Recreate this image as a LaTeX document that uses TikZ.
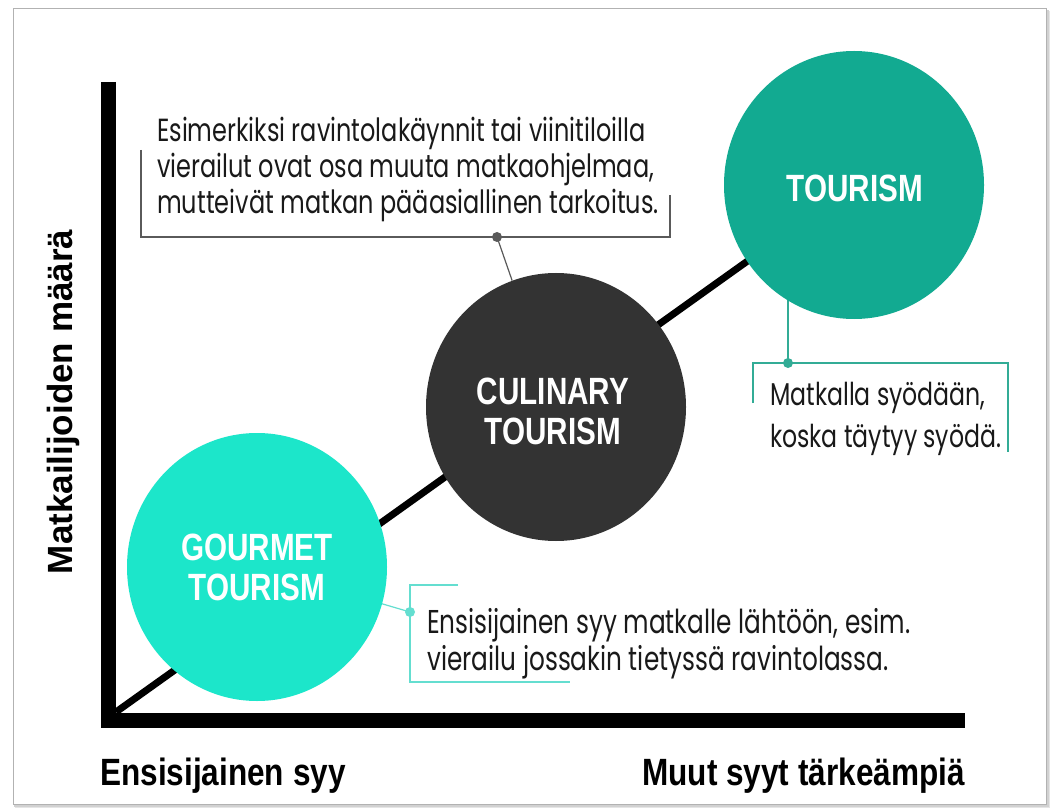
\documentclass[tikz,border=0pt]{standalone}
\usepackage{fontspec}
\setmainfont{Liberation Sans}
\newfontfamily\bodyfont[FakeStretch=0.75]{Poppins}
\newfontfamily\bubblefont[FakeStretch=0.78]{Liberation Sans}
\newfontfamily\axisfont[FakeStretch=0.83]{Liberation Sans}
\newfontfamily\vaxisfont[FakeStretch=1.0]{Liberation Sans}
\usetikzlibrary{shapes.geometric}

\pgfdeclarelayer{frame}
\pgfdeclarelayer{links}
\pgfsetlayers{frame,links,main}

\definecolor{gourmetcol}{RGB}{28,230,202}
\definecolor{tourismcol}{RGB}{18,170,145}
\definecolor{culinarycol}{RGB}{51,51,51}
\definecolor{gourmetline}{RGB}{100,222,208}
\definecolor{tourismline}{RGB}{50,172,150}
\definecolor{noteline}{RGB}{90,90,90}
\definecolor{ink}{RGB}{25,25,25}

\begin{document}
\begin{tikzpicture}[x=1pt,y=-1pt,
  bubble/.style={ellipse,minimum width=260pt,minimum height=268pt,inner sep=0pt,draw=none},
  bubbletext/.style={text=white,align=center,inner sep=0pt,
    font=\bubblefont\bfseries\fontsize{38}{40}\selectfont},
  notetext/.style={text=ink,anchor=base west,inner sep=0pt},
  axislabel/.style={text=black,inner sep=0pt,font=\axisfont\bfseries\fontsize{38}{40}\selectfont},
  dotmark/.style={circle,minimum size=10pt,inner sep=0pt},
  axisline/.style={line width=15pt,line cap=butt,line join=miter},
]
\useasboundingbox (0,0) rectangle (1052,810);

% page frame with a soft shadow
\begin{pgfonlayer}{frame}
  \fill[black!10] (15,11) rectangle (1050,808);
  \fill[black!18] (14,10) rectangle (1048.5,806.5);
  \fill[white] (13,9) rectangle (1046.5,804.5);
  \draw[black!30,line width=1pt] (13,9) rectangle (1046.5,804.5);
\end{pgfonlayer}

% bubbles
\node[bubble,fill=gourmetcol] (gourmet) at (257,567) {};
\node[bubble,fill=culinarycol] (culinary) at (556,407) {};
\node[bubble,fill=tourismcol] (tourism) at (854,185) {};

\node[bubbletext] (gourmetlabel) at (257,567) {GOURMET\\TOURISM};
\node[bubbletext] (culinarylabel) at (553,411) {CULINARY\\TOURISM};
\node[bubbletext] (tourismlabel) at (855,188) {TOURISM};

% axes and trend line
\coordinate (origin) at (116,712);
\coordinate (ytop) at (108,82);
\coordinate (ycorner) at (108,720);
\coordinate (xend) at (965,720);
\begin{pgfonlayer}{links}
  \draw[line width=7pt] (origin) -- (tourism.center);
\end{pgfonlayer}
\draw[axisline] (ytop) -- (ycorner) -- (xend);

% callout: culinary tourism
\coordinate (cn1) at (141,150);
\coordinate (cn2) at (141,237);
\coordinate (cn3) at (670,237);
\coordinate (cn4) at (670,195);
\draw[noteline,line width=1.2pt] (cn1) -- (cn2) -- (cn3) -- (cn4);
\node[dotmark,fill=noteline] (cdot) at (497,237) {};
\begin{pgfonlayer}{links}
  \draw[noteline,line width=1.2pt] (cdot.center) -- (culinary);
\end{pgfonlayer}
\begin{scope}[every node/.style={notetext,font=\bodyfont\fontsize{32}{34}\selectfont}]
  \node (c1) at (157,142) {Esimerkiksi ravintolakäynnit tai viinitiloilla};
  \node (c2) at (157,178) {vierailut ovat osa muuta matkaohjelmaa,};
  \node (c3) at (157,214) {mutteivät matkan pääasiallinen tarkoitus.};
\end{scope}

% callout: tourism
\coordinate (tn1) at (753,403);
\coordinate (tn2) at (753,363);
\coordinate (tn3) at (1008,363);
\coordinate (tn4) at (1008,452);
\draw[tourismline,line width=1.2pt] (tn1) -- (tn2) -- (tn3) -- (tn4);
\node[dotmark,fill=tourismline] (tdot) at (788,363) {};
\begin{pgfonlayer}{links}
  \draw[tourismline,line width=1.2pt] (tdot.center) -- (tdot |- tourism.center);
\end{pgfonlayer}
\begin{scope}[every node/.style={notetext,font=\bodyfont\fontsize{31.5}{34}\selectfont}]
  \node (t1) at (770,405) {Matkalla syödään,};
  \node (t2) at (770,447) {koska täytyy syödä.};
\end{scope}

% callout: gourmet tourism
\coordinate (gn1) at (458,585);
\coordinate (gn2) at (410,585);
\coordinate (gn3) at (410,682);
\coordinate (gn4) at (570,682);
\draw[gourmetline,line width=1.2pt] (gn1) -- (gn2) -- (gn3) -- (gn4);
\node[dotmark,fill=gourmetline] (gdot) at (410,612) {};
\begin{pgfonlayer}{links}
  \draw[gourmetline,line width=1.2pt] (gdot.center) -- (gourmet.center);
\end{pgfonlayer}
\begin{scope}[every node/.style={notetext,font=\bodyfont\fontsize{33}{34}\selectfont}]
  \node (g1) at (427,633) {Ensisijainen syy matkalle lähtöön, esim.};
  \node (g2) at (427,670) {vierailu jossakin tietyssä ravintolassa.};
\end{scope}

% axis titles
\node[axislabel,anchor=base west] (xlow) at (100,785) {Ensisijainen syy};
\node[axislabel,anchor=base east] (xhigh) at (965,785) {Muut syyt tärkeämpiä};
\node[axislabel,font=\vaxisfont\bfseries\fontsize{35}{36}\selectfont,rotate=90,anchor=base] (ylabel) at (72,402) {Matkailijoiden määrä};
\end{tikzpicture}
\end{document}
